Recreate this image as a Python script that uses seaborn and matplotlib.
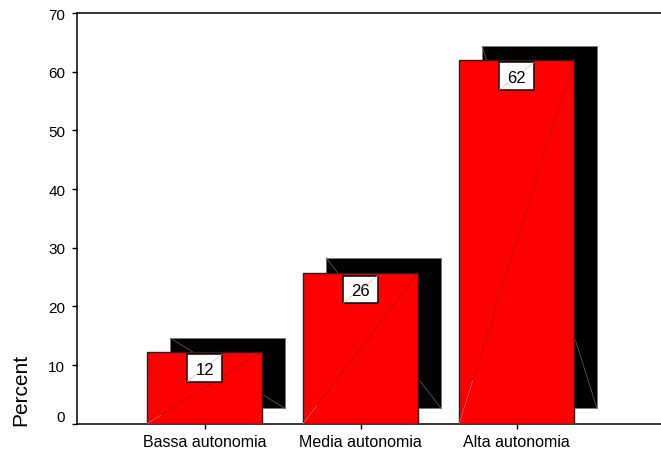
import matplotlib
matplotlib.use('Agg')
import matplotlib.pyplot as plt
from matplotlib.patches import Rectangle
from matplotlib.transforms import ScaledTranslation
import seaborn as sns
import pandas as pd

categories = ['Bassa autonomia', 'Media autonomia', 'Alta autonomia']
percent = [12, 26, 62]
bar_tops = [12.3, 25.7, 62.05]
shadow_tops = [14.6, 28.3, 64.4]
shadow_bottom = 2.6
yticks = [0, 10, 20, 30, 40, 50, 60, 70]

sns.set_style('white')
plt.rcParams['font.family'] = ['Liberation Sans', 'DejaVu Sans']

W, H = 661, 456
fig = plt.figure(figsize=(W / 100, H / 100), dpi=100)
ax = fig.add_axes([76.7 / W, 1 - 424.7 / H, (W - 76.7) / W, (424.7 - 14) / H])

df = pd.DataFrame({'cat': categories, 'top': bar_tops})
sns.barplot(data=df, x='cat', y='top', color='red', saturation=1, width=0.737,
            edgecolor='#222222', linewidth=1, ax=ax, zorder=3)

ax.set_xlim(-0.82, 2.926)
ax.set_ylim(0, 70)

box_w = 0.224
box_h = 4.7
dx = 0.1474
for i, p in enumerate(list(ax.patches)):
    x0, w, h = p.get_x(), p.get_width(), p.get_height()
    # shadow behind the bar
    ax.add_patch(Rectangle((x0 + dx, shadow_bottom), w, shadow_tops[i] - shadow_bottom,
                           fc='black', ec='#777777', lw=0.6, zorder=2))
    ax.plot([x0 + dx, x0 + dx + w], [shadow_tops[i], shadow_bottom], color='#666666', lw=0.5, zorder=2.5)
    # thin diagonal across the bar
    ax.plot([x0, x0 + w], [0, h], color='#b00000', lw=0.5, zorder=4)
    ax.plot([x0, x0 + 0.12 * w], [0, 0.12 * h], color='#ff7070', lw=0.5, zorder=4.1)
    # value label box
    bx = x0 + w / 2 - box_w / 2
    by = h - 0.45 - box_h
    ax.add_patch(Rectangle((bx, by), box_w, box_h, fc='white', ec='black', lw=1.1, zorder=5))
    ax.plot([bx, bx + box_w], [by, by + box_h], color='#ffb0b0', lw=0.5, zorder=5.1)
    ax.text(bx + box_w / 2, by + box_h / 2, str(percent[i]), ha='center', va='center_baseline',
            fontsize=12, color='black', zorder=6)

ax.set_yticks(yticks)
ax.set_xlabel('')
ax.set_ylabel('Percent', fontsize=15, color='black')
ax.yaxis.set_label_coords((30 - 76.7) / (W - 76.7), (424.7 - 390) / (424.7 - 14))
ax.tick_params(axis='y', labelsize=11, length=3.3, width=1, left=True, color='black', labelcolor='black', pad=5)
ax.tick_params(axis='x', labelsize=11.5, length=3.5, width=1, bottom=True, color='black', labelcolor='black', pad=4)

# the 0 label sits above its tick in the original
zero = ax.get_yticklabels()[0]
zero.set_transform(zero.get_transform() + ScaledTranslation(0, 8.5 / 100, fig.dpi_scale_trans))

for s in ['left', 'top', 'bottom']:
    ax.spines[s].set_color('black')
    ax.spines[s].set_linewidth(1.1)
ax.spines['right'].set_visible(False)

fig.savefig('out.png', dpi=100)
